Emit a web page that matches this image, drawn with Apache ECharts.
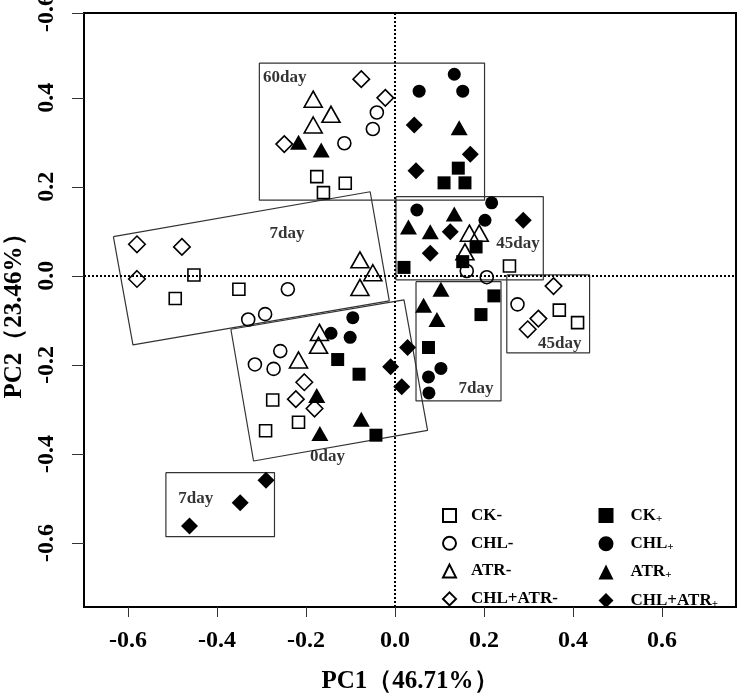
<!DOCTYPE html>
<html>
<head>
<meta charset="utf-8">
<script src="https://cdn.jsdelivr.net/npm/echarts@6/dist/echarts.min.js"></script>
<style>html,body{margin:0;padding:0;background:#fff}#c{width:740px;height:694px}</style>
</head>
<body>
<div id="c"></div>
<script>
// ---- axis ticks ----
const xTicks = [-0.6, -0.4, -0.2, 0, 0.2, 0.4, 0.6];
const xTickLabels = ['-0.6', '-0.4', '-0.2', '0.0', '0.2', '0.4', '0.6'];
const yTicks = [-0.6, -0.4, -0.2, 0, 0.2, 0.4, 0.5906];
const yTickLabels = ['-0.6', '-0.4', '-0.2', '0.0', '0.2', '0.4', '-0.6'];
const xRange = [-0.699, 0.766];
const yRange = [-0.744, 0.5906];

// ---- series values [PC1, PC2] ----
const CKminus = [[-0.176,0.223],[-0.112,0.208],[-0.161,0.187],[-0.452,0.002],[-0.351,-0.030],[-0.494,-0.051],[0.257,0.022],[0.369,-0.077],[0.410,-0.105],[-0.275,-0.279],[-0.217,-0.329],[-0.291,-0.348]];
const CHLminus = [[-0.041,0.367],[-0.050,0.330],[-0.114,0.298],[-0.241,-0.030],[-0.330,-0.098],[-0.292,-0.086],[0.161,0.011],[0.206,-0.003],[0.275,-0.064],[-0.258,-0.169],[-0.315,-0.199],[-0.273,-0.209]];
const ATRminus = [[-0.184,0.397],[-0.144,0.363],[-0.184,0.339],[-0.079,0.036],[-0.050,0.007],[-0.079,-0.026],[0.167,0.096],[0.189,0.096],[0.157,0.054],[-0.170,-0.127],[-0.172,-0.156],[-0.217,-0.189]];
const CHLATRminus = [[-0.076,0.442],[-0.022,0.400],[-0.249,0.296],[-0.580,0.071],[-0.479,0.065],[-0.580,-0.007],[0.356,-0.023],[0.322,-0.096],[0.298,-0.120],[-0.204,-0.239],[-0.223,-0.277],[-0.181,-0.298]];
const CKplus = [[0.142,0.242],[0.110,0.209],[0.157,0.209],[0.182,0.065],[0.152,0.032],[0.020,0.019],[0.222,-0.045],[0.193,-0.087],[0.075,-0.161],[-0.129,-0.188],[-0.081,-0.221],[-0.043,-0.358]];
const CHLplus = [[0.133,0.453],[0.054,0.415],[0.152,0.415],[0.217,0.164],[0.049,0.148],[0.202,0.125],[0.103,-0.208],[0.075,-0.227],[0.076,-0.263],[-0.095,-0.094],[-0.144,-0.129],[-0.101,-0.138]];
const ATRplus = [[-0.217,0.300],[-0.166,0.283],[0.144,0.333],[0.133,0.139],[0.030,0.110],[0.079,0.099],[0.103,-0.030],[0.064,-0.066],[0.094,-0.098],[-0.176,-0.269],[-0.076,-0.322],[-0.169,-0.354]];
const CHLATRplus = [[0.043,0.339],[0.169,0.273],[0.047,0.236],[0.288,0.125],[0.124,0.099],[0.079,0.051],[0.028,-0.161],[-0.010,-0.204],[0.015,-0.249],[-0.290,-0.459],[-0.348,-0.510],[-0.462,-0.562]];

// ---- group boxes (corners in data space) ----
const boxes = [
  [[-0.305,0.478],[0.201,0.478],[0.201,0.170],[-0.305,0.170]],
  [[-0.633,0.088],[-0.056,0.189],[-0.013,-0.056],[-0.589,-0.155]],
  [[0.002,0.178],[0.333,0.178],[0.333,-0.009],[0.002,-0.009]],
  [[0.047,-0.013],[0.238,-0.013],[0.238,-0.281],[0.047,-0.281]],
  [[0.251,0.002],[0.437,0.002],[0.437,-0.173],[0.251,-0.173]],
  [[-0.369,-0.120],[0.020,-0.054],[0.073,-0.347],[-0.318,-0.416]],
  [[-0.515,-0.442],[-0.271,-0.442],[-0.271,-0.586],[-0.515,-0.586]]
];
const boxLabels = ['60day', '7day', '45day', '7day', '45day', '0day', '7day'];
const boxLabelPos = [[-0.248,0.445],[-0.243,0.096],[0.276,0.073],[0.182,-0.253],[0.370,-0.152],[-0.152,-0.407],[-0.448,-0.500]];

const FONT = '"Liberation Serif", "Times New Roman", serif';
const OPEN = 'rgba(255,255,255,0)';

function fmt(ticks, labels) {
  return function (v) {
    const i = ticks.findIndex(t => Math.abs(t - v) < 1e-6);
    return i >= 0 ? labels[i] : '';
  };
}

const chart = echarts.init(document.getElementById('c'), null, { renderer: 'canvas' });

const pointDefs = [
  { name: 'CK-', data: CKminus, symbol: 'rect', size: 12, fill: OPEN },
  { name: 'CHL-', data: CHLminus, symbol: 'circle', size: 13, fill: OPEN },
  { name: 'ATR-', data: ATRminus, symbol: 'triangle', size: [18, 16], fill: OPEN },
  { name: 'CHL+ATR-', data: CHLATRminus, symbol: 'diamond', size: 16.5, fill: OPEN },
  { name: 'CK+', data: CKplus, symbol: 'rect', size: 13, fill: '#000' },
  { name: 'CHL+', data: CHLplus, symbol: 'circle', size: 13, fill: '#000' },
  { name: 'ATR+', data: ATRplus, symbol: 'triangle', size: [17, 15], fill: '#000' },
  { name: 'CHL+ATR+', data: CHLATRplus, symbol: 'diamond', size: 17, fill: '#000' }
];

const series = [];
boxes.forEach((b, i) => {
  series.push({
    type: 'line', name: 'box' + i, data: b.concat([b[0]]), symbol: 'none', silent: true,
    lineStyle: { color: '#333', width: 1.2 }, z: 1, animation: false
  });
});
series.push({
  type: 'scatter', name: 'labels', symbolSize: 0, silent: true, z: 3, animation: false,
  data: boxLabelPos.map((p, i) => ({ value: p, name: boxLabels[i] })),
  label: { show: true, position: 'inside', formatter: '{b}', color: '#000', fontFamily: FONT, fontWeight: 'bold', fontSize: 17 },
  markLine: {
    silent: true, symbol: 'none', animation: false,
    label: { show: false },
    lineStyle: { type: 'dotted', color: '#000', width: 2 },
    data: [{ xAxis: 0 }, { yAxis: 0 }]
  }
});
pointDefs.forEach(d => {
  series.push({
    type: 'scatter', name: d.name, data: d.data, symbol: d.symbol, symbolSize: d.size, z: 5, animation: false,
    itemStyle: { color: d.fill, borderColor: '#000', borderWidth: d.fill === OPEN ? 1.6 : 0, opacity: 1 }
  });
});

function legendFmt(name) {
  if (name.endsWith('+')) return '{g|}{a|' + name.slice(0, -1) + '}{s|+}';
  return '{g|}{a|' + name + '}';
}
function legendText(gap) {
  return {
    color: '#000',
    rich: {
      g: { width: gap, height: 18 },
      a: { fontFamily: FONT, fontWeight: 'bold', fontSize: 17, lineHeight: 18, color: '#000' },
      s: { fontFamily: FONT, fontWeight: 'bold', fontSize: 11, lineHeight: 18, color: '#000', verticalAlign: 'bottom' }
    }
  };
}

chart.setOption({
  backgroundColor: '#fff',
  animation: false,
  grid: { left: 84, top: 13, right: 4, bottom: 87, show: true, borderColor: '#000', borderWidth: 2, backgroundColor: 'transparent', outerBoundsMode: 'none', containLabel: false },
  xAxis: {
    type: 'value', min: xRange[0], max: xRange[1],
    name: 'PC1（46.71%）', nameLocation: 'middle', nameGap: 62,
    nameTextStyle: { fontFamily: FONT, fontWeight: 'bold', fontSize: 25, color: '#000' },
    axisLine: { show: false, onZero: false },
    axisTick: { show: true, length: 10, customValues: xTicks, lineStyle: { color: '#333', width: 1 } },
    axisLabel: { customValues: xTicks, formatter: fmt(xTicks, xTickLabels), margin: 22, fontFamily: FONT, fontWeight: 'bold', fontSize: 24, color: '#000' },
    splitLine: { show: false }
  },
  yAxis: {
    type: 'value', min: yRange[0], max: yRange[1],
    name: 'PC2（23.46%）', nameLocation: 'middle', nameGap: 57, nameRotate: 90,
    nameTextStyle: { fontFamily: FONT, fontWeight: 'bold', fontSize: 25, color: '#000' },
    axisLine: { show: false, onZero: false },
    axisTick: { show: true, length: 12, customValues: yTicks, lineStyle: { color: '#333', width: 1 } },
    axisLabel: { customValues: yTicks, formatter: fmt(yTicks, yTickLabels), rotate: 90, margin: 25, fontFamily: FONT, fontWeight: 'bold', fontSize: 24, color: '#000' },
    splitLine: { show: false }
  },
  legend: [
    {
      data: ['CK-', 'CHL-', 'ATR-', 'CHL+ATR-'], orient: 'vertical', left: 442, top: 507,
      itemWidth: 13, itemHeight: 13, itemGap: 10.8, formatter: legendFmt, textStyle: legendText(10),
      selectedMode: false, padding: 0
    },
    {
      data: ['CK+', 'CHL+', 'ATR+', 'CHL+ATR+'], orient: 'vertical', left: 598.5, top: 507,
      itemWidth: 15, itemHeight: 15, itemGap: 10.8, formatter: legendFmt, textStyle: legendText(12),
      selectedMode: false, padding: 0
    }
  ],
  series: series
});
</script>
</body>
</html>
